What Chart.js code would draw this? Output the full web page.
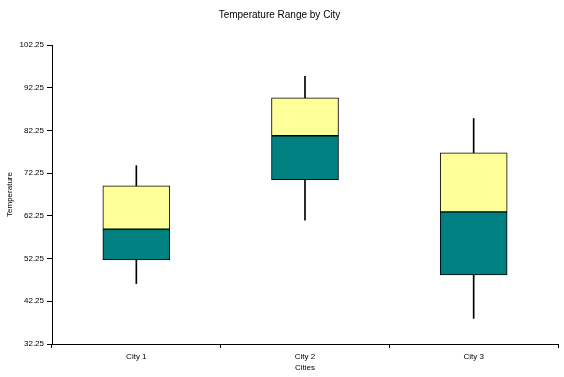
<!DOCTYPE html>
<html>
<head>
<meta charset="utf-8">
<script src="https://cdn.jsdelivr.net/npm/chart.js@4/dist/chart.umd.min.js"></script>
<style>
  html, body { margin: 0; padding: 0; background: #fff; }
  .wrap { width: 564px; height: 377px; position: relative; }
</style>
</head>
<body>
<div class="wrap"><canvas id="boxChart"></canvas></div>
<script>
// values
const cities = ['City 1', 'City 2', 'City 3']
const minTemp = [46.4, 61.25, 38.25]
const q1Temp = [51.95, 70.7, 48.4]
const medianTemp = [59.15, 81.0, 63.2]
const q3Temp = [69.3, 89.9, 77.0]
const maxTemp = [74.0, 94.9, 85.05]

const lowerBox = cities.map((c, i) => [q1Temp[i], medianTemp[i]])
const upperBox = cities.map((c, i) => [medianTemp[i], q3Temp[i]])
const whiskers = cities.map((c, i) => [minTemp[i], maxTemp[i]])

const tickFont = { family: 'Liberation Sans, Arial, sans-serif', size: 8 }

const ctx = document.getElementById('boxChart')
new Chart(ctx, {
  type: 'bar',
  data: {
    labels: cities,
    datasets: [
      {
        label: 'Range',
        data: whiskers,
        backgroundColor: '#000000',
        borderWidth: 0,
        barThickness: 1,
        grouped: false,
        order: 3
      },
      {
        label: 'Lower',
        data: lowerBox,
        backgroundColor: '#008080',
        borderColor: '#000000',
        borderWidth: 1,
        borderSkipped: false,
        barThickness: 67,
        grouped: false,
        order: 2
      },
      {
        label: 'Upper',
        data: upperBox,
        backgroundColor: '#FFFF99',
        borderColor: '#000000',
        borderWidth: 1,
        borderSkipped: false,
        barThickness: 67,
        grouped: false,
        order: 1
      }
    ]
  },
  options: {
    responsive: true,
    maintainAspectRatio: false,
    animation: false,
    layout: { padding: { left: 1, right: 6, top: 0, bottom: 0 } },
    plugins: {
      legend: { display: false },
      tooltip: { enabled: false },
      title: {
        display: true,
        text: 'Temperature Range by City',
        color: '#000',
        font: { family: 'Liberation Sans, Arial, sans-serif', size: 10, weight: 'normal' },
        padding: { top: 9, bottom: 24 }
      }
    },
    scales: {
      x: {
        grid: {
          display: true,
          drawOnChartArea: false,
          color: '#000',
          tickLength: 4,
          offset: true
        },
        border: { color: '#000', width: 1 },
        ticks: { color: '#000', font: tickFont, padding: 4 },
        title: {
          display: true,
          text: 'Cities',
          color: '#000',
          font: tickFont,
          padding: { top: 2, bottom: 4 }
        },
        afterFit: (scale) => { scale.height = 33 }
      },
      y: {
        min: 32.25,
        max: 102.25,
        grid: {
          display: true,
          drawOnChartArea: false,
          color: '#000',
          tickLength: 5
        },
        border: { color: '#000', width: 1 },
        ticks: {
          stepSize: 10,
          color: '#000',
          font: tickFont,
          padding: 3,
          callback: (v) => v.toFixed(2)
        },
        title: {
          display: true,
          text: 'Temperature',
          color: '#000',
          font: tickFont,
          padding: { top: 4, bottom: 4 }
        },
        afterFit: (scale) => { scale.width = 51 }
      }
    }
  }
})
</script>
</body>
</html>
